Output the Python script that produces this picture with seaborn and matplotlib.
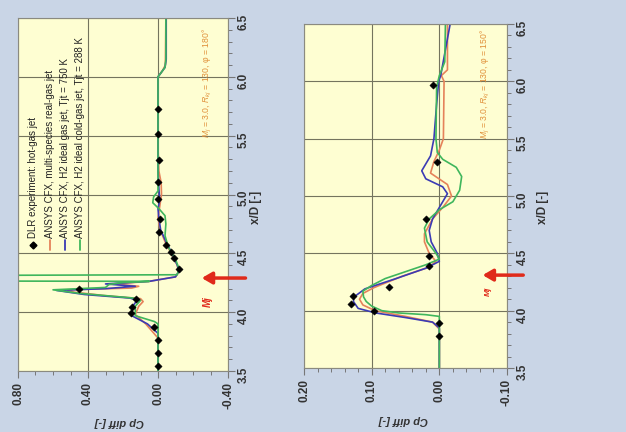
import numpy as np
import pandas as pd
import matplotlib
matplotlib.use("Agg")
import matplotlib.pyplot as plt
from matplotlib.ticker import MultipleLocator, FormatStrFormatter
import seaborn as sns

# ---------------- data (rotated chart: Cp diff horizontal, x/D vertical) ----------------
# Left panel (phi = 180 deg)
L_dlr_xd = [3.54, 3.65, 3.76, 3.87, 3.99, 4.04, 4.11, 4.20, 4.37, 4.46, 4.51, 4.57, 4.68, 4.79, 4.96, 5.11, 5.29, 5.51, 5.73]
L_dlr_cp = [0.0, 0.0, 0.0, 0.025, 0.152, 0.148, 0.126, 0.452, -0.12, -0.093, -0.075, -0.048, -0.008, -0.012, 0.0, 0.0, -0.004, 0.0, 0.0]

L_real_xd = [3.5, 3.78, 3.90, 3.98, 4.05, 4.09, 4.115, 4.14, 4.17, 4.19, 4.205, 4.22, 4.24, 4.262, 4.30, 4.34, 4.40, 4.50, 4.60, 4.70, 4.80, 4.90, 5.00, 5.10, 5.20, 5.40, 5.70, 6.00, 6.05, 6.10, 6.50]
L_real_cp = [0.0, 0.0, 0.07, 0.13, 0.11, 0.085, 0.10, 0.30, 0.48, 0.52, 0.15, 0.11, 0.25, 0.05, -0.10, -0.118, -0.11, -0.075, -0.04, -0.012, 0.0, -0.01, -0.02, -0.018, -0.005, 0.0, 0.0, 0.0, -0.025, -0.042, -0.045]

L_hot_xd = [3.5, 3.82, 3.90, 3.97, 4.05, 4.10, 4.12, 4.15, 4.185, 4.20, 4.22, 4.24, 4.262, 4.30, 4.35, 4.40, 4.50, 4.60, 4.70, 4.80, 4.88, 4.95, 5.05, 5.20, 5.40, 5.70, 6.00, 6.04, 6.08, 6.15, 6.50]
L_hot_cp = [0.0, 0.0, 0.06, 0.15, 0.145, 0.12, 0.16, 0.42, 0.58, 0.30, 0.13, 0.30, 0.05, -0.10, -0.12, -0.11, -0.08, -0.045, -0.015, -0.005, 0.0, -0.01, -0.005, 0.0, 0.0, 0.0, 0.0, -0.02, -0.04, -0.047, -0.047]

L_cold_xd = [3.5, 3.90, 3.92, 3.97, 4.05, 4.10, 4.12, 4.16, 4.19, 4.21, 4.235, 4.252, 4.262, 4.266, 4.310, 4.318, 4.37, 4.45, 4.55, 4.65, 4.75, 4.82, 4.88, 4.93, 4.98, 5.03, 5.10, 5.40, 5.70, 6.00, 6.04, 6.08, 6.15, 6.50]
L_cold_cp = [0.0, 0.0, 0.02, 0.13, 0.13, 0.10, 0.14, 0.45, 0.60, 0.30, 0.28, 0.20, 0.05, 1.6, 1.6, -0.11, -0.12, -0.10, -0.06, -0.04, -0.045, -0.04, -0.005, 0.03, 0.025, 0.0, 0.0, 0.0, 0.0, 0.0, -0.02, -0.04, -0.045, -0.045]

# Right panel (phi = 150 deg)
R_dlr_xd = [3.78, 3.89, 4.00, 4.06, 4.13, 4.21, 4.39, 4.48, 4.80, 5.30, 5.97]
R_dlr_cp = [0.0, 0.0, 0.096, 0.131, 0.127, 0.075, 0.015, 0.015, 0.02, 0.003, 0.009]

R_real_xd = [3.5, 3.84, 3.90, 3.95, 4.00, 4.05, 4.10, 4.15, 4.20, 4.30, 4.38, 4.43, 4.50, 4.60, 4.67, 4.80, 4.90, 5.00, 5.10, 5.20, 5.30, 5.40, 5.50, 6.00, 6.05, 6.10, 6.50]
R_real_cp = [0.0, 0.0, 0.01, 0.05, 0.095, 0.113, 0.118, 0.113, 0.097, 0.055, 0.015, 0.005, 0.015, 0.022, 0.022, 0.01, -0.005, -0.018, -0.012, 0.013, 0.008, 0.0, -0.006, -0.007, -0.003, -0.012, -0.012]

R_hot_xd = [3.5, 3.85, 3.90, 3.94, 3.98, 4.02, 4.08, 4.12, 4.19, 4.28, 4.37, 4.43, 4.50, 4.60, 4.70, 4.80, 4.90, 5.02, 5.08, 5.15, 5.22, 5.28, 5.35, 5.50, 5.80, 6.00, 6.05, 6.50]
R_hot_cp = [0.0, 0.0, 0.01, 0.05, 0.094, 0.12, 0.127, 0.126, 0.11, 0.064, 0.02, 0.0, 0.003, 0.012, 0.015, 0.01, 0.0, -0.012, -0.005, 0.02, 0.026, 0.02, 0.013, 0.008, 0.004, 0.001, -0.002, -0.016]

R_cold_xd = [3.5, 3.95, 3.965, 3.98, 4.00, 4.04, 4.08, 4.12, 4.17, 4.22, 4.28, 4.34, 4.40, 4.45, 4.50, 4.60, 4.72, 4.80, 4.88, 4.95, 5.05, 5.17, 5.25, 5.32, 5.38, 5.50, 5.95, 6.05, 6.17, 6.50]
R_cold_cp = [0.0, 0.0, 0.02, 0.06, 0.085, 0.10, 0.108, 0.112, 0.113, 0.10, 0.08, 0.05, 0.02, 0.0, 0.005, 0.018, 0.022, 0.015, 0.0, -0.02, -0.03, -0.033, -0.025, -0.005, 0.003, 0.005, 0.004, 0.0, -0.008, -0.009]

legend_labels = ["DLR experiment: hot-gas jet",
                 "ANSYS CFX, multi-species real-gas jet",
                 "ANSYS CFX, H2 ideal gas jet, Tjt = 750 K",
                 "ANSYS CFX, H2 ideal cold-gas jet, Tjt = 288 K"]
xd_label = "x/D [-]"
cp_label = "Cp diff [-]"
cond_left = r"$M_j$ = 3.0, $R_{kj}$ = 130, " + "φ = 180°"
cond_right = r"$M_j$ = 3.0, $R_{kj}$ = 130, " + "φ = 150°"
mj_label = "Mj"

# ---------------- style ----------------
sns.set_style("white")
plt.rcParams["font.family"] = ["Liberation Sans", "DejaVu Sans"]
plt.rcParams["mathtext.fontset"] = "custom"
plt.rcParams["mathtext.rm"] = "Liberation Sans"
plt.rcParams["mathtext.it"] = "Liberation Sans:italic"

BG = "#c9d5e6"
FACE = "#fefed2"
GRID = "#74745e"
C_REAL = "#e5825a"
C_HOT = "#3b3bb4"
C_COLD = "#3fb65c"
C_TXT = "#e0903a"
C_RED = "#e02a1a"

fig = plt.figure(figsize=(6.26, 4.32), dpi=100, facecolor=BG)

W, H = 626.0, 432.0
def axrect(x0, y0, x1, y1):
    return [x0 / W, 1 - y1 / H, (x1 - x0) / W, (y1 - y0) / H]

axL = fig.add_axes(axrect(18, 18, 228, 371))
axR = fig.add_axes(axrect(304, 24, 507, 368))


def style_axes(ax, xlim, major, minor):
    ax.set_facecolor(FACE)
    ax.set_xlim(*xlim)
    ax.set_ylim(3.5, 6.5)
    ax.xaxis.set_major_locator(MultipleLocator(major))
    ax.xaxis.set_minor_locator(MultipleLocator(minor))
    ax.xaxis.set_major_formatter(FormatStrFormatter("%.2f"))
    ax.yaxis.set_major_locator(MultipleLocator(0.5))
    ax.yaxis.set_minor_locator(MultipleLocator(0.1))
    ax.yaxis.set_major_formatter(FormatStrFormatter("%.1f"))
    ax.yaxis.tick_right()
    ax.xaxis.tick_bottom()
    ax.tick_params(axis="x", which="major", direction="out", length=5, width=0.8,
                   color="#777777", labelrotation=90, labelsize=8.5, pad=3,
                   labelcolor="#333333")
    ax.tick_params(axis="x", which="minor", direction="out", length=3, width=0.7,
                   color="#777777")
    ax.tick_params(axis="y", which="major", direction="out", length=5, width=0.8,
                   color="#777777", labelrotation=90, labelsize=8.5, pad=2,
                   labelcolor="#333333")
    ax.tick_params(axis="y", which="minor", direction="out", length=3, width=0.7,
                   color="#777777")
    for lab in ax.get_xticklabels() + ax.get_yticklabels():
        lab.set_fontweight("bold")
    ax.grid(True, which="major", color=GRID, lw=0.8)
    ax.set_axisbelow(True)
    for sp in ax.spines.values():
        sp.set_color("#8a8a80")
        sp.set_linewidth(0.8)
    ax.set_xlabel("")
    ax.set_ylabel("")


def draw_panel(ax, series, dlr_xd, dlr_cp):
    for xd, cp, col in series:
        df = pd.DataFrame({"cp": cp, "xd": xd})
        sns.lineplot(data=df, x="cp", y="xd", sort=False, estimator=None,
                     color=col, lw=1.2, ax=ax, legend=False)
    sns.scatterplot(x=dlr_cp, y=dlr_xd, marker="D", color="black", s=14,
                    edgecolor="black", linewidth=0.3, ax=ax, zorder=5, legend=False)


draw_panel(axL, [(L_real_xd, L_real_cp, C_REAL), (L_hot_xd, L_hot_cp, C_HOT),
                 (L_cold_xd, L_cold_cp, C_COLD)], L_dlr_xd, L_dlr_cp)
draw_panel(axR, [(R_real_xd, R_real_cp, C_REAL), (R_hot_xd, R_hot_cp, C_HOT),
                 (R_cold_xd, R_cold_cp, C_COLD)], R_dlr_xd, R_dlr_cp)

style_axes(axL, (0.8, -0.4), 0.4, 0.1)
style_axes(axR, (0.2, -0.1), 0.1, 0.02)

# legend (rotated, drawn by hand in axes coordinates)
leg_x = [0.071, 0.152, 0.224, 0.295]
leg_cols = [None, C_REAL, C_HOT, C_COLD]
for i, (lab, col) in enumerate(zip(legend_labels, leg_cols)):
    if col is None:
        axL.plot([leg_x[i]], [0.358], marker="D", color="black", ms=3.5,
                 transform=axL.transAxes, clip_on=False)
    else:
        axL.plot([leg_x[i], leg_x[i]], [0.343, 0.370], color=col, lw=1.3,
                 transform=axL.transAxes)
    axL.text(leg_x[i], 0.378, lab, rotation=90, rotation_mode="anchor",
             ha="left", va="center", fontsize=7, color="#222222",
             transform=axL.transAxes)

# condition annotations
axL.text((207 - 18) / 210, (371 - 83) / 353, cond_left, rotation=90, ha="center",
         va="center", fontsize=6.2, color=C_TXT, transform=axL.transAxes)
axR.text((485 - 304) / 203, (368 - 84) / 344, cond_right, rotation=90, ha="center",
         va="center", fontsize=6.2, color=C_TXT, transform=axR.transAxes)

# Mj arrows
axL.annotate("", xy=(-0.25, 4.29), xytext=(-0.50, 4.29), annotation_clip=False,
             arrowprops=dict(arrowstyle="-|>,head_length=0.6,head_width=0.35",
                             color=C_RED, lw=2.5, shrinkA=0, shrinkB=0))
axR.annotate("", xy=(-0.064, 4.31), xytext=(-0.124, 4.31), annotation_clip=False,
             arrowprops=dict(arrowstyle="-|>,head_length=0.6,head_width=0.35",
                             color=C_RED, lw=2.5, shrinkA=0, shrinkB=0))
axL.text(-0.285, 4.09, mj_label, rotation=90, ha="center", va="center",
         fontsize=7, color=C_RED, style="italic", fontweight="bold")
axR.text(-0.072, 4.17, mj_label, rotation=90, ha="center", va="center",
         fontsize=6, color=C_RED, style="italic", fontweight="bold")

# axis labels (rotated chart)
fig.text(256 / W, 1 - 207 / H, xd_label, rotation=90, ha="center", va="center",
         fontsize=8.5, fontweight="bold", color="#333333")
fig.text(543 / W, 1 - 207 / H, xd_label, rotation=90, ha="center", va="center",
         fontsize=8.5, fontweight="bold", color="#333333")
fig.text(119 / W, 1 - 422 / H, cp_label, rotation=180, ha="center", va="center",
         fontsize=8, fontweight="bold", style="italic", color="#333333")
fig.text(403 / W, 1 - 420 / H, cp_label, rotation=180, ha="center", va="center",
         fontsize=8, fontweight="bold", style="italic", color="#333333")

fig.savefig("out.png", dpi=100, facecolor=BG)
